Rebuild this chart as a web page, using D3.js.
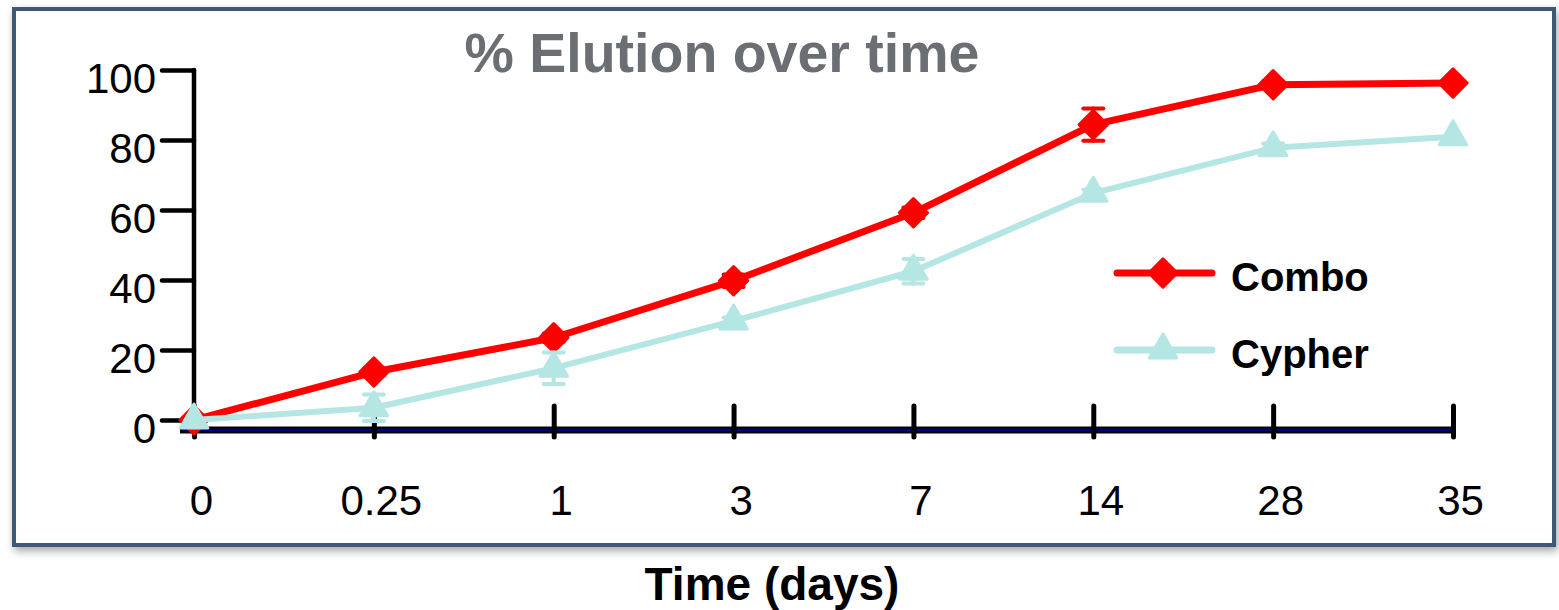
<!DOCTYPE html>
<html>
<head>
<meta charset="utf-8">
<title>% Elution over time</title>
<script src="https://d3js.org/d3.v7.min.js"></script>
<style>
  body { margin: 0; background: #fff; }
  text { font-family: "Liberation Sans", Arial, sans-serif; }
</style>
</head>
<body>
<div id="chart"></div>
<script>
// data
const days = ["0", "0.25", "1", "3", "7", "14", "28", "35"];
const combo = [0, 13.7, 23.5, 39.8, 59.2, 84.4, 95.8, 96.3];
const comboErr = [0, 1, 1.2, 1.8, 1.5, 4.6, 1, 0.5];
const cypher = [0, 3.5, 14.8, 28.3, 42.5, 64.8, 77.8, 80.9];
const cypherErr = [0, 3.8, 4.5, 1, 3.5, 1, 1.2, 0.5];
const yTicks = [0, 20, 40, 60, 80, 100];

const width = 1559, height = 610;

const svg = d3.select("#chart").append("svg")
    .attr("width", width)
    .attr("height", height);

// frame with shadow
const defs = svg.append("defs");
defs.append("filter").attr("id", "shadow")
    .attr("x", "-5%").attr("y", "-5%").attr("width", "110%").attr("height", "115%")
  .append("feDropShadow")
    .attr("dx", 2).attr("dy", 4).attr("stdDeviation", 4)
    .attr("flood-color", "#000").attr("flood-opacity", 0.35);

svg.append("rect")
    .attr("x", 14).attr("y", 9)
    .attr("width", 1540).attr("height", 536)
    .attr("fill", "#fff")
    .attr("stroke", "#3f5877")
    .attr("stroke-width", 4)
    .attr("filter", "url(#shadow)");

const x = d3.scalePoint().domain(days).range([194, 1453]);
const y = d3.scaleLinear().domain([0, 100]).range([420, 70]);
const axisY = 430;

// title
svg.append("text")
    .attr("x", 722).attr("y", 72)
    .attr("text-anchor", "middle")
    .attr("font-size", 55.5).attr("font-weight", "bold")
    .attr("fill", "#6b6e72")
    .text("% Elution over time");

// y axis
const gy = svg.append("g")
    .attr("transform", "translate(194,0)")
    .call(d3.axisLeft(y).tickValues(yTicks).tickSize(32).tickPadding(6));
gy.select(".domain").remove();
gy.selectAll(".tick line")
    .attr("stroke", "#000").attr("stroke-width", 4.5).attr("stroke-linecap", "round");
gy.selectAll(".tick text")
    .attr("font-size", 42).attr("fill", "#000")
    .attr("font-family", "Liberation Sans, Arial, sans-serif")
    .attr("y", 9);
svg.append("line")
    .attr("x1", 194).attr("x2", 194)
    .attr("y1", y(100)).attr("y2", axisY)
    .attr("stroke", "#000").attr("stroke-width", 4.5).attr("stroke-linecap", "round");

// x axis (black with navy core)
const gx = svg.append("g")
    .attr("transform", `translate(0,${axisY})`)
    .call(d3.axisBottom(x).tickSizeOuter(0));
gx.select(".domain").remove();
gx.insert("line", ":first-child")
    .attr("x1", 180).attr("x2", x("35"))
    .attr("stroke", "#000").attr("stroke-width", 7);
gx.insert("line", ".tick")
    .attr("x1", 182).attr("x2", x("35"))
    .attr("stroke", "#000080").attr("stroke-width", 2.5);
gx.selectAll(".tick line")
    .attr("y1", 7).attr("y2", -24)
    .attr("stroke", "#000").attr("stroke-width", 5).attr("stroke-linecap", "round");
gx.selectAll(".tick text")
    .attr("font-size", 42).attr("fill", "#000")
    .attr("font-family", "Liberation Sans, Arial, sans-serif")
    .attr("y", 85).attr("dy", 0).attr("dx", 7);

// x axis title
svg.append("text")
    .attr("x", 772).attr("y", 600)
    .attr("text-anchor", "middle")
    .attr("font-size", 46).attr("font-weight", "bold")
    .attr("fill", "#000")
    .text("Time (days)");

const diamond = d3.symbol().type(d3.symbolSquare).size(400);
const triangle = d3.symbol().type(d3.symbolTriangle).size(330);

function drawSeries(vals, errs, color, shape, rotate, lw) {
  const g = svg.append("g");
  const pts = vals.map((v, i) => ({day: days[i], v: v, e: errs[i]}));
  g.append("path")
      .datum(pts)
      .attr("fill", "none")
      .attr("stroke", color)
      .attr("stroke-width", lw)
      .attr("stroke-linejoin", "round")
      .attr("d", d3.line().x(d => x(d.day)).y(d => y(d.v)));
  const eb = g.selectAll(".err").data(pts.filter(d => d.e > 0.8)).join("g")
      .attr("stroke", color).attr("stroke-width", 4).attr("stroke-linecap", "round");
  eb.append("line")
      .attr("x1", d => x(d.day)).attr("x2", d => x(d.day))
      .attr("y1", d => y(d.v + d.e)).attr("y2", d => y(d.v - d.e));
  eb.append("line")
      .attr("x1", d => x(d.day) - 10).attr("x2", d => x(d.day) + 10)
      .attr("y1", d => y(d.v + d.e)).attr("y2", d => y(d.v + d.e));
  eb.append("line")
      .attr("x1", d => x(d.day) - 10).attr("x2", d => x(d.day) + 10)
      .attr("y1", d => y(d.v - d.e)).attr("y2", d => y(d.v - d.e));
  g.selectAll(".pt").data(pts).join("path")
      .attr("transform", d => `translate(${x(d.day)},${y(d.v)}) rotate(${rotate})`)
      .attr("d", shape)
      .attr("fill", color)
      .attr("stroke", color).attr("stroke-width", 3).attr("stroke-linejoin", "round");
}

drawSeries(combo, comboErr, "#ff0000", diamond, 45, 7);
drawSeries(cypher, cypherErr, "#b4e6e3", triangle, 0, 6);

// legend
const legend = [
  {name: "Combo", color: "#ff0000", shape: diamond, rot: 45, y: 273},
  {name: "Cypher", color: "#b4e6e3", shape: triangle, rot: 0, y: 350}
];
const lg = svg.append("g").selectAll("g").data(legend).join("g");
lg.append("line")
    .attr("x1", 1117).attr("x2", 1212)
    .attr("y1", d => d.y).attr("y2", d => d.y)
    .attr("stroke", d => d.color).attr("stroke-width", 7).attr("stroke-linecap", "round");
lg.append("path")
    .attr("transform", d => `translate(1163,${d.y}) rotate(${d.rot})`)
    .attr("d", d => d.shape())
    .attr("fill", d => d.color)
    .attr("stroke", d => d.color).attr("stroke-width", 3).attr("stroke-linejoin", "round");
lg.append("text")
    .attr("x", 1231).attr("y", d => d.y + 18)
    .attr("font-size", 40).attr("font-weight", "bold")
    .attr("fill", "#000")
    .text(d => d.name);
</script>
</body>
</html>
